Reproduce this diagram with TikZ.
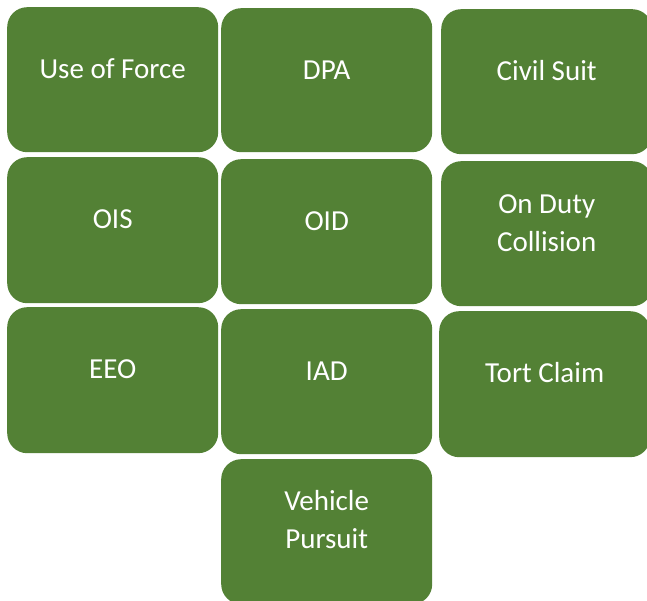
\documentclass[tikz,border=0pt]{standalone}
\usepackage{fontspec}
\setmainfont{Carlito}
\definecolor{boxgreen}{HTML}{538135}
\begin{document}
\begin{tikzpicture}[x=1pt,y=-1pt,
  tile/.style={fill=boxgreen,draw=none,rounded corners=20pt,inner sep=0pt,anchor=north west},
  tiletext/.style={text=white,font=\fontsize{29}{38}\selectfont,align=center,anchor=center,inner sep=0pt}]
\useasboundingbox (0,0) rectangle (647,601);
% tiles: name / x1 / y1 / x2 / y2
\foreach \n/\xa/\ya/\xb/\yb in {
  uof/7/7/218/152, dpa/221/8/432/152, civ/441/9/652/154,
  ois/7/157/218/303, oid/221/159/432/304, odc/441/161/652/306,
  eeo/7/307/218/453, iad/221/309/432/454, tort/439/311/650/457,
  veh/221/459/432/604}{
  \node[tile,minimum width={(\xb-\xa)*1pt},minimum height={(\yb-\ya)*1pt}] (\n) at (\xa,\ya) {};
}
\node[tiletext] (uoft) at ([yshift=-62pt]uof.north) {Use of Force};
\node[tiletext] (dpat) at ([yshift=-62pt]dpa.north) {DPA};
\node[tiletext] (civt) at ([yshift=-62pt]civ.north) {Civil Suit};
\node[tiletext] (oist) at ([yshift=-62pt]ois.north) {OIS};
\node[tiletext] (oidt) at ([yshift=-62pt]oid.north) {OID};
\node[tiletext] (odct) at ([yshift=-62pt]odc.north) {On Duty\\Collision};
\node[tiletext] (eeot) at ([yshift=-62pt]eeo.north) {EEO};
\node[tiletext] (iadt) at ([yshift=-62pt]iad.north) {IAD};
\node[tiletext] (tortt) at ([yshift=-62pt]tort.north) {Tort Claim};
\node[tiletext] (veht) at ([yshift=-61pt]veh.north) {Vehicle\\Pursuit};
\end{tikzpicture}
\end{document}
